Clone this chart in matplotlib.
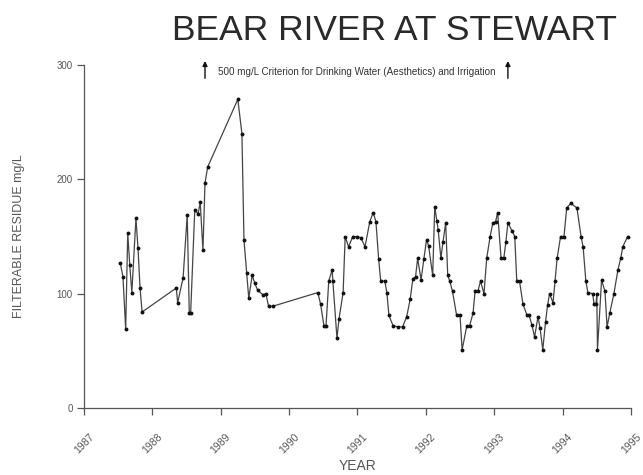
"""
Filterable residue (TDS) record for the Bear River at Stewart, 1987-1995.
"""

import matplotlib
matplotlib.use('Agg')
import matplotlib.pyplot as plt

plt.rcParams['font.family'] = ['Liberation Sans', 'DejaVu Sans']

# Sample dates (decimal year) and filterable residue (mg/L)
YEARS = [
    1987.53, 1987.57, 1987.61, 1987.64, 1987.67, 1987.70, 1987.76, 1987.79, 1987.82, 1987.85,
    1988.35, 1988.37, 1988.45, 1988.51, 1988.54, 1988.56, 1988.62, 1988.67, 1988.70, 1988.74,
    1988.77, 1988.81, 1989.25, 1989.31, 1989.34, 1989.38, 1989.41, 1989.46, 1989.50, 1989.54,
    1989.62, 1989.66, 1989.70, 1989.76, 1990.42, 1990.46, 1990.51, 1990.54, 1990.58, 1990.63,
    1990.64, 1990.70, 1990.73, 1990.79, 1990.82, 1990.87, 1990.93, 1990.99, 1991.05, 1991.11,
    1991.18, 1991.23, 1991.27, 1991.31, 1991.34, 1991.40, 1991.43, 1991.46, 1991.52, 1991.59,
    1991.66, 1991.72, 1991.77, 1991.81, 1991.85, 1991.88, 1991.93, 1991.97, 1992.01, 1992.04,
    1992.10, 1992.13, 1992.16, 1992.18, 1992.22, 1992.25, 1992.29, 1992.32, 1992.35, 1992.39,
    1992.45, 1992.50, 1992.53, 1992.60, 1992.64, 1992.69, 1992.72, 1992.76, 1992.80, 1992.85,
    1992.89, 1992.94, 1992.98, 1993.02, 1993.05, 1993.10, 1993.14, 1993.17, 1993.20, 1993.26,
    1993.30, 1993.33, 1993.37, 1993.42, 1993.48, 1993.51, 1993.55, 1993.59, 1993.64, 1993.67,
    1993.71, 1993.75, 1993.78, 1993.81, 1993.86, 1993.89, 1993.92, 1993.97, 1994.02, 1994.06,
    1994.12, 1994.21, 1994.27, 1994.30, 1994.34, 1994.37, 1994.44, 1994.46, 1994.49, 1994.50,
    1994.51, 1994.57, 1994.62, 1994.65, 1994.69, 1994.75, 1994.81, 1994.85, 1994.88, 1994.95,
]
RESIDUE = [
    127, 115, 69, 153, 125, 101, 166, 140, 105, 84,
    105, 92, 114, 169, 83, 83, 173, 170, 180, 138,
    197, 211, 270, 240, 147, 118, 96, 116, 109, 103,
    99, 100, 89, 89, 101, 91, 72, 72, 111, 121,
    111, 61, 78, 101, 150, 141, 150, 150, 149, 141,
    163, 171, 163, 130, 111, 111, 101, 81, 72, 71,
    71, 80, 95, 113, 115, 131, 112, 130, 147, 142,
    116, 176, 164, 156, 131, 145, 162, 116, 111, 102,
    81, 81, 51, 72, 72, 83, 102, 102, 111, 100,
    131, 150, 162, 163, 171, 131, 131, 145, 162, 155,
    150, 111, 111, 91, 81, 81, 73, 62, 80, 70,
    51, 75, 90, 100, 92, 111, 131, 150, 150, 175,
    179, 175, 150, 141, 111, 101, 100, 91, 91, 100,
    51, 112, 102, 71, 83, 100, 121, 131, 141, 150,
]

X_TICKS = list(range(1987, 1996))
Y_TICKS = [0, 100, 200, 300]

# Drinking water / irrigation criterion (off the top of the scale)
CRITERION_TEXT = '500 mg/L Criterion for Drinking Water (Aesthetics) and Irrigation'
ARROW_YEARS = [1988.77, 1993.20]

TEXT_GRAY = '#555555'

fig = plt.figure(figsize=(6.43, 4.75), dpi=100)
ax = fig.add_axes([0.1306, 0.141, 0.8507, 0.722])

ax.plot(YEARS, RESIDUE, color='#444444', lw=0.9, marker='o', ms=1.8,
        mfc='#111111', mec='#111111', zorder=3)

ax.set_xlim(1987, 1995)
ax.set_ylim(0, 300)
ax.set_xticks(X_TICKS)
ax.set_yticks(Y_TICKS)
ax.set_xticklabels([str(y) for y in X_TICKS], rotation=45, ha='center',
                   fontsize=7.5, color=TEXT_GRAY)
ax.set_yticklabels([str(v) for v in Y_TICKS], fontsize=7, color=TEXT_GRAY)
ax.tick_params(axis='both', direction='out', length=5, width=0.9, color='#555555', pad=3)
ax.tick_params(axis='x', pad=12)

for side in ('top', 'right'):
    ax.spines[side].set_visible(False)
for side in ('left', 'bottom'):
    ax.spines[side].set_color('#555555')
    ax.spines[side].set_linewidth(0.9)

ax.set_xlabel('YEAR', fontsize=10, color=TEXT_GRAY)
ax.xaxis.set_label_coords(0.5, -0.148)
ax.set_ylabel('FILTERABLE RESIDUE mg/L', fontsize=9, color=TEXT_GRAY)
ax.yaxis.set_label_coords(-0.108, 0.5)

# Criterion note with arrows pointing above the plotted range
for yr in ARROW_YEARS:
    ax.annotate('', xy=(yr, 306), xytext=(yr, 286), annotation_clip=False,
                arrowprops=dict(arrowstyle='-|>', color='#111111', lw=1.0,
                                mutation_scale=7))
ax.text(sum(ARROW_YEARS) / 2, 294, CRITERION_TEXT, ha='center', va='center',
        fontsize=7.1, color='#333333')

fig.text(0.614, 0.935, 'BEAR RIVER AT STEWART', ha='center', va='center',
         fontsize=25.5, color='#2a2a2a')

fig.savefig('out.png', dpi=100)
